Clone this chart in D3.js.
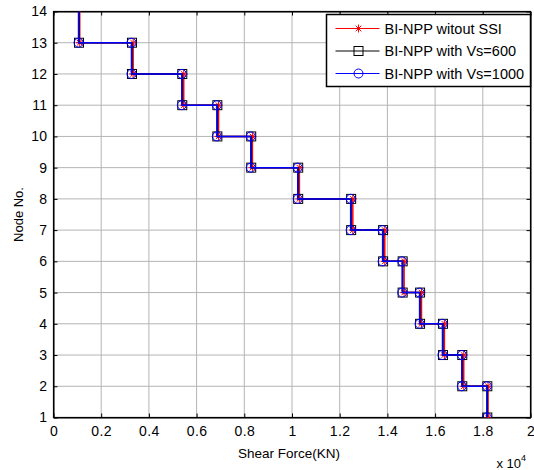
<html>
    <head>
        <script src="https://d3js.org/d3.v7.min.js"></script>
        <style type="text/css">
        body { margin: 0; background: #fff; }
        text { font-family: "Liberation Sans", Arial, sans-serif; }
        </style>
    </head>
    <body>
        <div id="chart"></div>

<script type="text/javascript">

// shear force (KN) carried between node n+1 and node n, n = 13 .. 1
const nodes = [13, 12, 11, 10, 9, 8, 7, 6, 5, 4, 3, 2, 1];
const shearNoSSI = [1100, 3340, 5460, 6920, 8340, 10310, 12550, 13890, 14700, 15430, 16390, 17200, 18220];
const shearVs600 = [1070, 3290, 5400, 6870, 8290, 10260, 12480, 13820, 14640, 15370, 16330, 17140, 18190];
const shearVs1000 = [1050, 3270, 5380, 6850, 8270, 10240, 12460, 13800, 14620, 15350, 16310, 17120, 18170];

const xTicks = [0, 2000, 4000, 6000, 8000, 10000, 12000, 14000, 16000, 18000, 20000];
const yTicks = [1, 2, 3, 4, 5, 6, 7, 8, 9, 10, 11, 12, 13, 14];
const seriesNames = ["BI-NPP witout SSI", "BI-NPP with Vs=600", "BI-NPP with Vs=1000"];

const margin = {top: 11.5, right: 3.5, bottom: 52.5, left: 53.5},
    width = 534 - margin.left - margin.right,
    height = 470 - margin.top - margin.bottom;

const svg = d3.select("#chart")
    .append("svg")
        .attr("width", 534)
        .attr("height", 470)
    .append("g")
        .attr("transform", "translate(" + margin.left + "," + margin.top + ")");

const x = d3.scaleLinear().domain([0, 20000]).range([0, width]);
const y = d3.scaleLinear().domain([1, 14]).range([height, 0]);

// grid
svg.append("g").selectAll("line").data(xTicks.slice(1, -1)).enter().append("line")
    .attr("x1", d => x(d)).attr("x2", d => x(d))
    .attr("y1", 0).attr("y2", height)
    .attr("stroke", "#b4b4b4").attr("stroke-width", 1);
svg.append("g").selectAll("line").data(yTicks.slice(1, -1)).enter().append("line")
    .attr("y1", d => y(d)).attr("y2", d => y(d))
    .attr("x1", 0).attr("x2", width)
    .attr("stroke", "#b4b4b4").attr("stroke-width", 1);

// axes with inward ticks on all four sides
const fmt = d => d3.format("~g")(d / 10000);
svg.append("g")
    .attr("transform", "translate(0," + height + ")")
    .call(d3.axisBottom(x).tickValues(xTicks).tickFormat(fmt).tickSizeInner(-4).tickSizeOuter(0).tickPadding(9));
svg.append("g")
    .call(d3.axisTop(x).tickValues(xTicks).tickFormat("").tickSizeInner(-4).tickSizeOuter(0));
svg.append("g")
    .call(d3.axisLeft(y).tickValues(yTicks).tickSizeInner(-4).tickSizeOuter(0).tickPadding(6));
svg.append("g")
    .attr("transform", "translate(" + width + ",0)")
    .call(d3.axisRight(y).tickValues(yTicks).tickFormat("").tickSizeInner(-4).tickSizeOuter(0));

svg.selectAll(".tick text").attr("font-size", 14).attr("fill", "#000")
    .attr("letter-spacing", 0.4)
    .style("font-family", "Liberation Sans, Arial, sans-serif");
svg.selectAll(".domain").attr("stroke", "#000");
svg.selectAll(".tick line").attr("stroke", "#000");

svg.append("rect")
    .attr("width", width).attr("height", height)
    .attr("fill", "none").attr("stroke", "#000").attr("stroke-width", 1.2);

// labels
svg.append("text")
    .attr("x", width / 2 - 3).attr("y", height + 40)
    .attr("text-anchor", "middle").attr("font-size", 13.5)
    .text("Shear Force(KN)");
const ex = svg.append("text")
    .attr("x", width - 34).attr("y", height + 50)
    .attr("font-size", 13);
ex.append("tspan").text("x 10");
ex.append("tspan").attr("font-size", 9).attr("dy", -7).text("4");
svg.append("text")
    .attr("transform", "translate(" + (-31) + "," + (height / 2) + ") rotate(-90)")
    .attr("text-anchor", "middle").attr("font-size", 13)
    .text("Node No.");

// clip for the step lines
svg.append("clipPath").attr("id", "clip")
    .append("rect").attr("width", width).attr("height", height);

function stepPoints(vals) {
    const pts = [];
    vals.forEach(function(v, i) {
        // top of the first storey runs off the axis
        pts.push([v, i === 0 ? nodes[i] + 2 : nodes[i] + 1]);
        pts.push([v, nodes[i]]);
    });
    return pts;
}

const line = d3.line().x(d => x(d[0])).y(d => y(d[1]));
const plot = svg.append("g").attr("clip-path", "url(#clip)");

const star = "M-4,0H4M0,-4V4M-2.8,-2.8L2.8,2.8M-2.8,2.8L2.8,-2.8";

function drawMarker(g, kind, color) {
    if (kind === "star") {
        g.append("path").attr("d", star).attr("stroke", color).attr("stroke-width", 1).attr("fill", "none");
    } else if (kind === "square") {
        g.append("rect").attr("x", -4.5).attr("y", -4.5).attr("width", 9).attr("height", 9)
            .attr("stroke", color).attr("stroke-width", 1).attr("fill", "none");
    } else {
        g.append("circle").attr("r", 4.5)
            .attr("stroke", color).attr("stroke-width", 1).attr("fill", "none");
    }
}

const series = [
    {vals: shearNoSSI, color: "#ff0000", marker: "star"},
    {vals: shearVs600, color: "#000000", marker: "square"},
    {vals: shearVs1000, color: "#0000ff", marker: "circle"}
];

series.forEach(function(s) {
    const pts = stepPoints(s.vals);
    plot.append("path")
        .datum(pts)
        .attr("d", line)
        .attr("fill", "none")
        .attr("stroke", s.color)
        .attr("stroke-width", 1.5);
    plot.selectAll(null)
        .data(pts.filter(p => p[1] <= 14))
        .enter().append("g")
        .attr("transform", d => "translate(" + x(d[0]) + "," + y(d[1]) + ")")
        .each(function() { drawMarker(d3.select(this), s.marker, s.color); });
});

// legend
const lg = svg.append("g").attr("transform", "translate(" + (width - 204) + ",3)");
lg.append("rect")
    .attr("width", 204).attr("height", 72)
    .attr("fill", "#fff").attr("stroke", "#000").attr("stroke-width", 1.5);
series.forEach(function(s, i) {
    const row = lg.append("g").attr("transform", "translate(0," + (14 + i * 22.5) + ")");
    row.append("line").attr("x1", 9).attr("x2", 53)
        .attr("stroke", s.color).attr("stroke-width", 1);
    drawMarker(row.append("g").attr("transform", "translate(32,0)"), s.marker, s.color);
    row.append("text").attr("x", 58).attr("y", 5)
        .attr("font-size", 14.5).text(seriesNames[i]);
});
</script>
</body>
</html>
